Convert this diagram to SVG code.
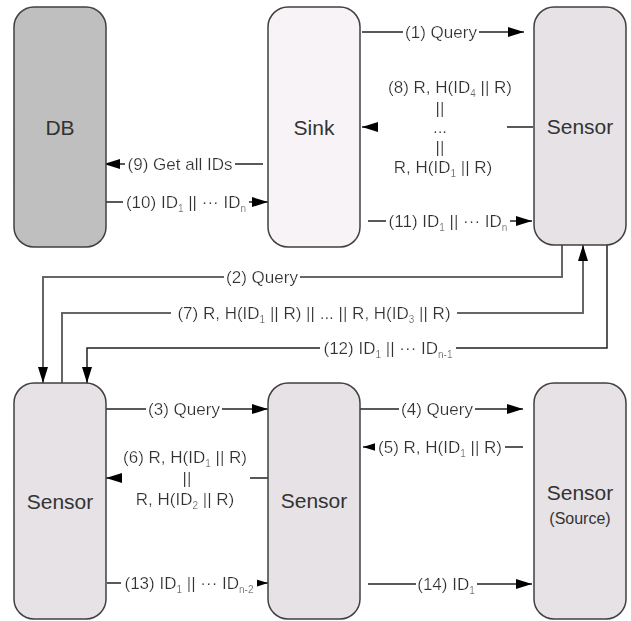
<svg xmlns="http://www.w3.org/2000/svg" width="631" height="621" viewBox="0 0 631 621">
<defs>
<marker id="ah" markerUnits="userSpaceOnUse" viewBox="0 0 16 10" refX="16" refY="5" markerWidth="16" markerHeight="10" orient="auto"><path d="M0,0 L16,5 L0,10 z" fill="#000"/></marker>
<filter id="bg" x="-0.02" y="0.1" width="1.04" height="0.8"><feFlood flood-color="#ffffff"/><feComposite in="SourceGraphic" operator="over"/></filter>
</defs>
<style>
.node{stroke:#404040;stroke-width:1.5}
.db{fill:#bfbfbf}
.sink{fill:#f7f3f7}
.sensor{fill:#e6e2e6}
.nl{font-family:"Liberation Sans",Arial,sans-serif;font-size:21px;fill:#333;text-anchor:middle}
.el{font-family:"Liberation Sans",Arial,sans-serif;font-size:17px;fill:#333;text-anchor:middle}
.bg{filter:url(#bg)}
.c{fill:none;stroke:#222;stroke-width:1.5}
.g{stroke:#666;stroke-width:2}
.s{font-size:10px;fill:#666}
</style>
<rect width="631" height="621" fill="#fff"/>
<g id="connectors">
<path class="c" d="M362,32 H524" marker-end="url(#ah)"/>
<path class="c" d="M533,127 H507"/>
<path class="c" d="M378,127 H362" marker-end="url(#ah)"/>
<path class="c" d="M368,221 H532" marker-end="url(#ah)"/>
<path class="c" d="M263,164 H104" marker-end="url(#ah)"/>
<path class="c" d="M106,202 H268" marker-end="url(#ah)"/>
<path class="c g" d="M562,245 V277 H43 V383" marker-end="url(#ah)"/>
<path class="c g" d="M62,383 V313 H583 V245" marker-end="url(#ah)"/>
<path class="c" d="M607,245 V348 H87 V383" marker-end="url(#ah)"/>
<path class="c" d="M106,409 H268" marker-end="url(#ah)"/>
<path class="c" d="M268,478 H250"/>
<path class="c" d="M122,478 H106" marker-end="url(#ah)"/>
<path class="c" d="M107,583 H268" marker-end="url(#ah)"/>
<path class="c" d="M360,409 H523" marker-end="url(#ah)"/>
<path class="c" d="M523,447 H363" marker-end="url(#ah)"/>
<path class="c" d="M368,584 H532" marker-end="url(#ah)"/>
<text class="el bg" x="441" y="38">(1) Query</text>
<text class="el bg" x="450" y="93">(8) R, H(ID<tspan class="s" dy="4">4</tspan><tspan dy="-4"> || R)</tspan></text>
<text class="el bg" x="440" y="114">||</text>
<text class="el bg" x="440" y="133">...</text>
<text class="el bg" x="440" y="153">||</text>
<text class="el bg" x="443" y="173">R, H(ID<tspan class="s" dy="4">1</tspan><tspan dy="-4"> || R)</tspan></text>
<text class="el bg" x="448" y="227">(11) ID<tspan class="s" dy="4">1</tspan><tspan dy="-4"> || ··· ID</tspan><tspan class="s" dy="4">n</tspan></text>
<text class="el bg" x="180" y="170">(9) Get all IDs</text>
<text class="el bg" x="186" y="208">(10) ID<tspan class="s" dy="4">1</tspan><tspan dy="-4"> || ··· ID</tspan><tspan class="s" dy="4">n</tspan></text>
<text class="el bg" x="262" y="283">(2) Query</text>
<text class="el bg" x="314" y="319">(7) R, H(ID<tspan class="s" dy="4">1</tspan><tspan dy="-4"> || R) || ... || R, H(ID</tspan><tspan class="s" dy="4">3</tspan><tspan dy="-4"> || R)</tspan></text>
<text class="el bg" x="388" y="354">(12) ID<tspan class="s" dy="4">1</tspan><tspan dy="-4"> || ··· ID</tspan><tspan class="s" dy="4">n-1</tspan></text>
<text class="el bg" x="184" y="415">(3) Query</text>
<text class="el bg" x="185" y="463">(6) R, H(ID<tspan class="s" dy="4">1</tspan><tspan dy="-4"> || R)</tspan></text>
<text class="el bg" x="187" y="484">||</text>
<text class="el bg" x="185" y="505">R, H(ID<tspan class="s" dy="4">2</tspan><tspan dy="-4"> || R)</tspan></text>
<text class="el bg" x="189" y="589">(13) ID<tspan class="s" dy="4">1</tspan><tspan dy="-4"> || ··· ID</tspan><tspan class="s" dy="4">n-2</tspan></text>
<text class="el bg" x="437" y="415">(4) Query</text>
<text class="el bg" x="440" y="453">(5) R, H(ID<tspan class="s" dy="4">1</tspan><tspan dy="-4"> || R)</tspan></text>
<text class="el bg" x="446" y="590">(14) ID<tspan class="s" dy="4">1</tspan></text>
</g>
<g id="db"><rect class="node db" x="14" y="7" width="92" height="240" rx="20"/><text class="nl" x="60" y="135">DB</text></g>
<g id="sink"><rect class="node sink" x="268" y="7" width="92" height="240" rx="20"/><text class="nl" x="314" y="135">Sink</text></g>
<g id="sensor-top"><rect class="node sensor" x="534" y="7" width="92" height="238" rx="20"/><text class="nl" x="580" y="134">Sensor</text></g>
<g id="sensor-left"><rect class="node sensor" x="14" y="383" width="92" height="236" rx="20"/><text class="nl" x="60" y="509">Sensor</text></g>
<g id="sensor-mid"><rect class="node sensor" x="268" y="383" width="92" height="236" rx="20"/><text class="nl" x="314" y="508">Sensor</text></g>
<g id="sensor-source"><rect class="node sensor" x="534" y="383" width="92" height="236" rx="20"/><text class="nl" x="580" y="500">Sensor</text><text class="nl" x="580" y="524" style="font-size:16px">(Source)</text></g>
</svg>
